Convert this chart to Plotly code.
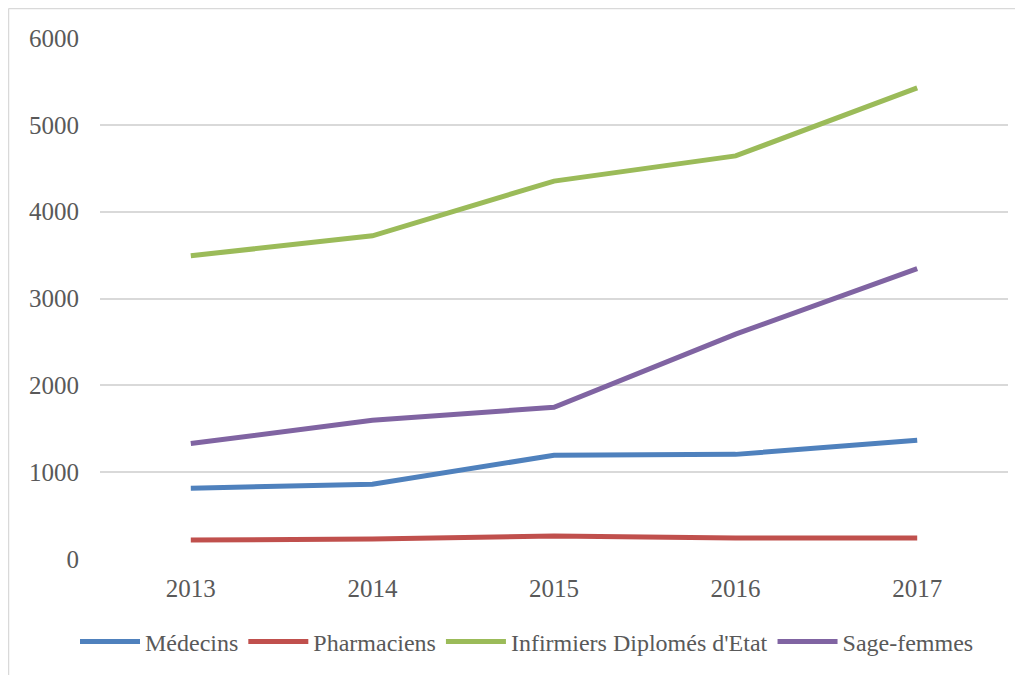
import plotly.graph_objects as go

years = ["2013", "2014", "2015", "2016", "2017"]
medecins = [815, 860, 1195, 1205, 1368]
pharmaciens = [218, 230, 264, 241, 241]
infirmiers = [3492, 3722, 4352, 4642, 5425]
sage_femmes = [1330, 1598, 1747, 2590, 3345]

series = [
    ("Médecins", medecins, "#4F81BD"),
    ("Pharmaciens", pharmaciens, "#C0504D"),
    ("Infirmiers Diplomés d'Etat", infirmiers, "#9BBB59"),
    ("Sage-femmes", sage_femmes, "#8064A2"),
]

fig = go.Figure()
for name, vals, col in series:
    fig.add_trace(go.Scatter(x=years, y=vals, name=name, mode="lines",
                             line=dict(color=col, width=5)))

# page has an 8px body margin; figure origin sits at page (8, 8)
OFF = 8
W, H = 1023 - OFF, 675 - OFF
L, R, T, B = 100 - OFF, 15, 38 - OFF, 115
pw, ph = W - L - R, H - T - B

def px(x):  # page x -> paper
    return (x - OFF - L) / pw

def py(y):  # page y -> paper
    return (H - B - (y - OFF)) / ph

fig.update_layout(
    width=W, height=H,
    margin=dict(l=L, r=R, t=T, b=B),
    paper_bgcolor="white", plot_bgcolor="white",
    font=dict(family="Liberation Serif", size=25, color="#595959"),
    xaxis=dict(type="category", range=[-0.5, 4.5], showgrid=False,
               showline=False, ticks="", zeroline=False,
               ticklabelstandoff=12),
    yaxis=dict(range=[0, 6000], dtick=1000, showgrid=True, gridcolor="#D9D9D9",
               gridwidth=1.5, zeroline=False, showline=False, ticks="",
               ticklabelstandoff=20),
    legend=dict(orientation="h", x=px(527), xanchor="center", y=py(642),
                yanchor="middle", font=dict(size=24), itemwidth=60),
    showlegend=True,
    shapes=[
        dict(type="line", xref="paper", yref="paper", x0=px(8.5), x1=px(8.5),
             y0=py(8.5), y1=py(680), line=dict(color="#D9D9D9", width=1.5)),
        dict(type="line", xref="paper", yref="paper", x0=px(8.5), x1=px(1030),
             y0=py(8.5), y1=py(8.5), line=dict(color="#D9D9D9", width=1.5)),
    ],
)

fig.write_html("out.html")
